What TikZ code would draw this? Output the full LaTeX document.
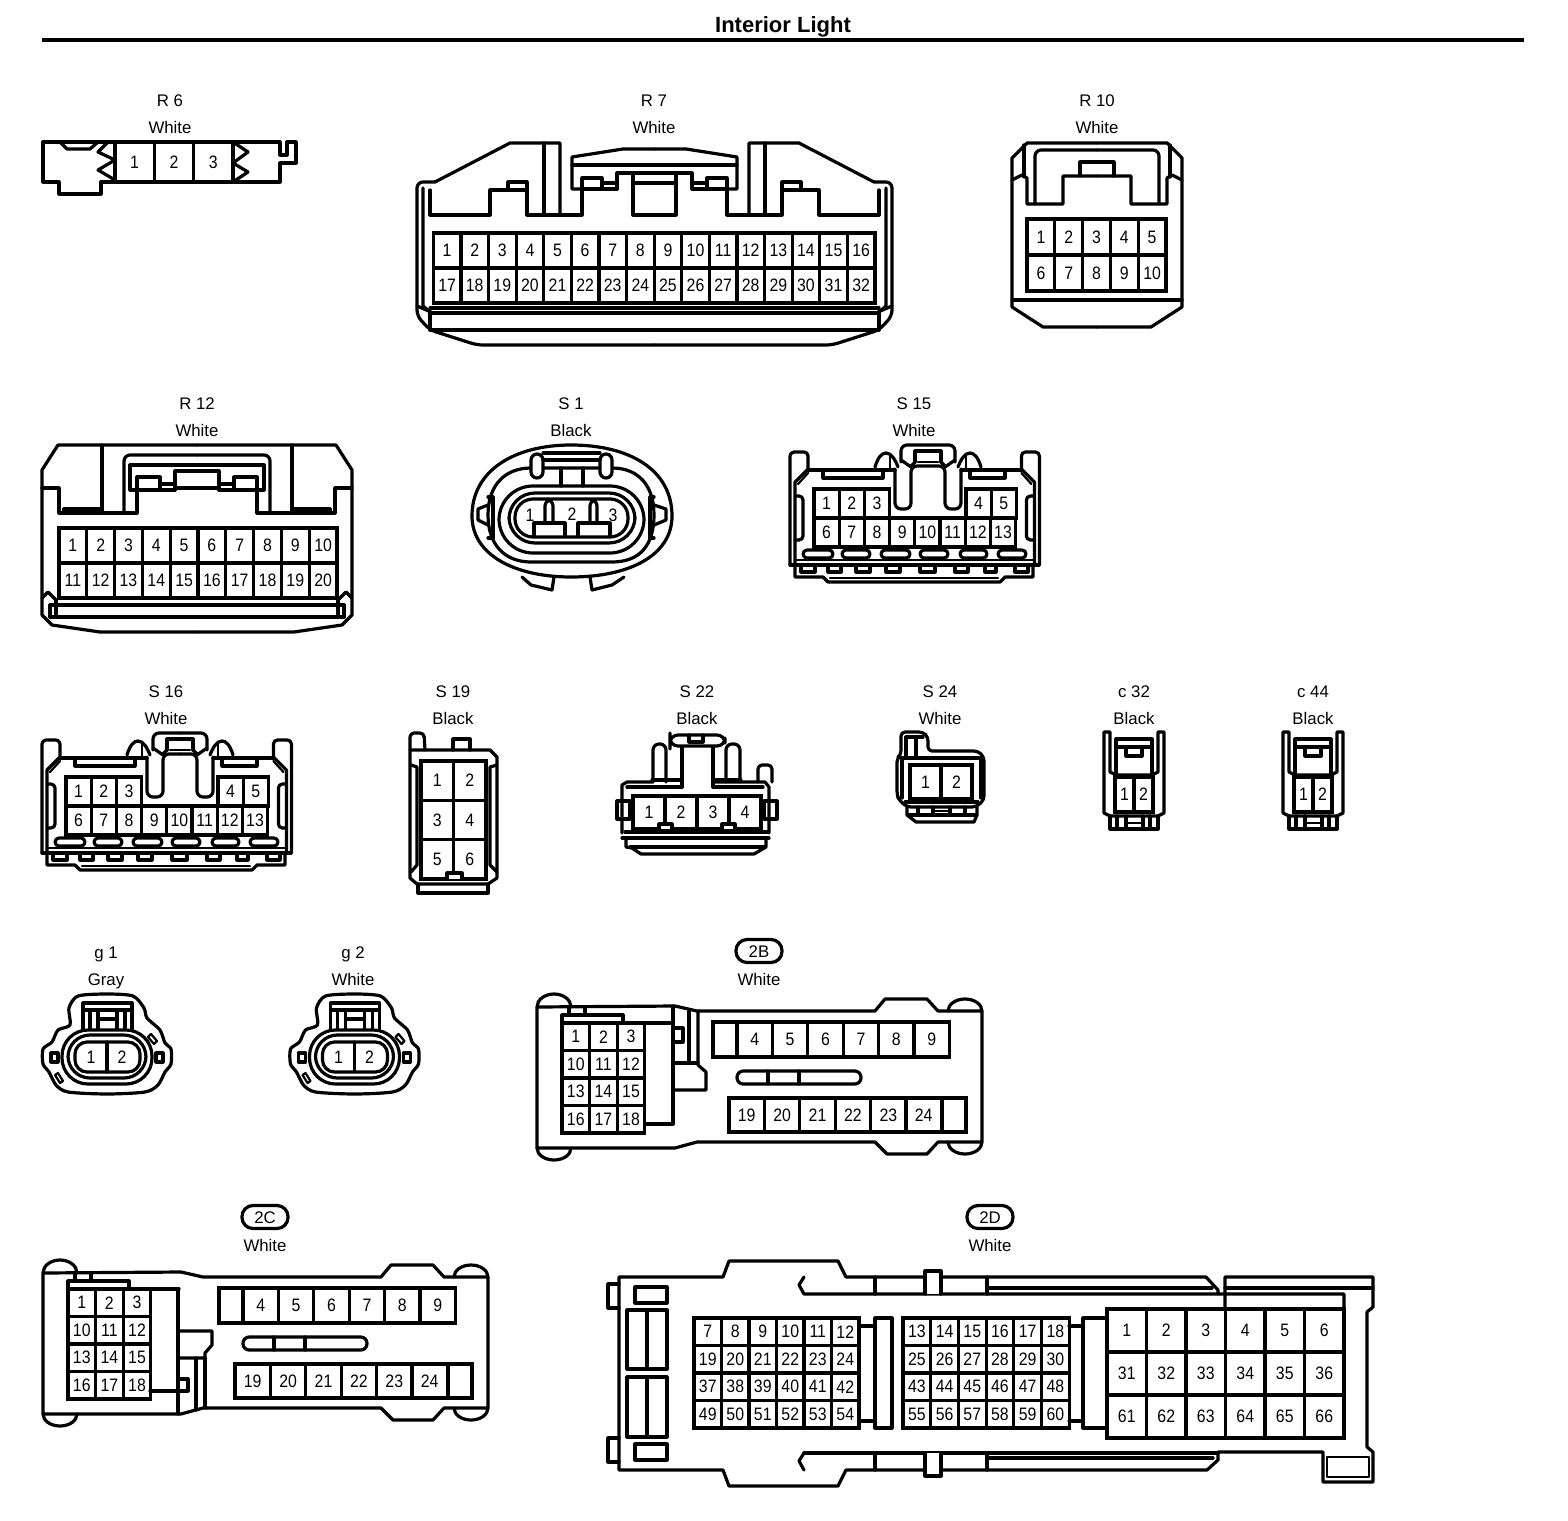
\documentclass[tikz,border=0pt]{standalone}
\usepackage{fontspec}
\setmainfont{Liberation Sans}
\newfontfamily\pinfont[FakeStretch=0.88]{Liberation Sans}
\tikzset{
  shell/.style={line width=1.6pt, line join=round, line cap=round},
  thin shell/.style={line width=1.1pt, line join=round, line cap=round},
  pinnum/.style={inner sep=0pt, outer sep=0pt, font=\pinfont\fontsize{9}{9}\selectfont},
  pincell/.style={pinnum, draw, line width=1.6pt},
  tagtext/.style={inner sep=0pt, text height=6pt, text depth=0pt, font=\fontsize{8.4}{10}\selectfont},
  tagpill/.style={tagtext, draw, line width=1.6pt, rounded corners=5.5pt, minimum width=23pt, minimum height=11.5pt}
}
\newcommand{\pinrow}[6]{
  \foreach \n [count=\k from 0] in {#6} {
    \node[pincell, minimum width=#4*0.5pt, minimum height=#5*0.5pt] (#1-\n) at ({#2+(\k+0.5)*#4},{#3+0.5*#5}) {\n};
  }
}
\newcommand{\conntag}[5]{
  \node[tagtext] (#1-tag) at (#2,#3) {#4};
  \node[tagtext] (#1-colour) at (#2,#3+27.5) {#5};
}
\newcommand{\ecutag}[5]{
  \node[tagpill] (#1-tag) at (#2,#3) {#4};
  \node[tagtext] (#1-colour) at (#2,#3+28) {#5};
}
\newcommand{\hsconn}[3]{
  \begin{scope}[shift={(#2,#3)}]
    \foreach \sx/\ox in {1/0,-1/333.4} {
      \begin{scope}[shift={(\ox,0)},xscale=\sx]
        \draw[shell, rounded corners=2pt] (42,853) -- (42,740) -- (60,740) -- (60,758);
        \draw[shell] (47,852) -- (47,770) -- (60,757);
        \draw[thin shell] (50,772) -- (60,761);
        \draw[shell, rounded corners=2pt] (47,784) -- (55,784) -- (55,828) -- (47,828);
      \end{scope}
    }
    \draw[shell] (60,758) -- (147,758);
    \draw[shell] (213,758) -- (273,758);
    \foreach \sx/\ox in {1/0,-1/360} {
      \begin{scope}[shift={(\ox,0)},xscale=\sx]
        \draw[shell, rounded corners=3pt] (180,754) -- (163,754) -- (163,797) -- (147,797) -- (147,757);
        \draw[shell] (127,755) .. controls (130,745) and (134,741) .. (138,741) .. controls (143,741) and (147,747) .. (150,755);
        \draw[thin shell] (142,742) -- (142,758);
        \draw[shell, rounded corners=3pt] (153,750) -- (153,733) -- (180,733);
        \draw[shell] (153,748) -- (163,755);
        \draw[shell] (167,750) -- (167,739) -- (180,739);
        \draw[thin shell] (170,750) -- (180,750);
        \draw[shell] (167,750) -- (163,754);
      \end{scope}
    }
    \draw[shell] (75,758) -- (75,766) -- (135,766) -- (135,758);
    \draw[shell] (222,758) -- (222,766) -- (257,766) -- (257,758);
    \draw[shell] (42,853) -- (291,853);
    \draw[thin shell] (47,848) -- (286,848);
    \foreach \a/\b in {55/85,94/122,133/162,172/200,212/239,250/278} {
      \draw[shell, rounded corners=2pt] (\a,838) rectangle (\b,846);
    }
    \draw[shell] (47,853) -- (47,865) -- (75,865) -- (80,870) -- (252,870) -- (257,865) -- (285,865) -- (285,853);
    \draw[thin shell] (82,866) -- (250,866);
    \foreach \a/\b in {53/67,80/93,108/122,138/152,172/187,207/220,237/248,267/280} {
      \draw[shell] (\a,853) -- (\a,860) -- (\b,860) -- (\b,853);
    }
    \pinrow{#1}{66}{777}{25.2}{29}{1,2,3}
    \pinrow{#1}{218}{777}{25.2}{29}{4,5}
    \pinrow{#1}{66}{806}{25.2}{29}{6,...,13}
  \end{scope}
}
\newcommand{\ccn}[2]{
  \begin{scope}[shift={(#2,0)}]
    \draw[shell] (1104,732) -- (1104,813) -- (1110,816) -- (1158,816) -- (1164,813) -- (1164,732) -- (1158,732) -- (1158,772) -- (1152,775) -- (1116,775) -- (1110,772) -- (1110,732) -- cycle;
    \draw[shell] (1116,775) -- (1116,739) -- (1152,739) -- (1152,775);
    \draw[shell] (1116,747) -- (1152,747);
    \draw[shell] (1126,747) -- (1126,756) -- (1142,756) -- (1142,747);
    \draw[shell] (1110,816) -- (1110,829) -- (1158,829) -- (1158,816);
    \draw[shell] (1117,816) -- (1117,829);
    \draw[shell] (1126,816) -- (1126,829);
    \draw[shell] (1143,816) -- (1143,829);
    \draw[shell] (1150,816) -- (1150,829);
    \draw[thin shell] (1126,823) -- (1143,823);
    \pinrow{#1}{1115}{777}{19}{35}{1,2}
  \end{scope}
}
\newcommand{\gcn}[2]{
  \begin{scope}[shift={(#2,0)}]
    \draw[shell] plot[smooth cycle, tension=.45] coordinates {(70,1025) (69,1008) (78,996) (107,994) (133,996) (144,1008) (147,1018) (160,1030) (165,1043) (171,1049) (171,1064) (165,1072) (158,1085) (145,1092) (107,1094) (68,1092) (56,1085) (49,1072) (43,1064) (43,1049) (52,1042) (58,1030)};
    \draw[shell, rounded corners=13pt] (62,1030) rectangle (152,1084);
    \draw[shell, rounded corners=11pt] (68,1035) rectangle (146,1078);
    \draw[shell, rounded corners=6pt] (75,1042) rectangle (140,1072);
    \draw[shell] (107,1042) -- (107,1072);
    \draw[shell] (83,1029) -- (83,1003) -- (132,1003) -- (132,1029);
    \draw[shell] (83,1010) -- (132,1010);
    \draw[shell] (90,1010) -- (90,1028);
    \draw[shell] (98,1010) -- (98,1028);
    \draw[shell] (117,1010) -- (117,1028);
    \draw[shell] (125,1010) -- (125,1028);
    \draw[shell] (98,1019) -- (117,1019);
    \draw[shell] (51,1053) rectangle (58,1062);
    \draw[shell] (156,1053) rectangle (163,1062);
    \draw[thin shell] (151,1034) -- (157,1041) -- (154,1044) -- (148,1037) -- cycle;
    \draw[thin shell] (58,1073) -- (63,1081) -- (60,1083) -- (55,1075) -- cycle;
    \node[pinnum] (#1-1) at (91,1057) {1};
    \node[pinnum] (#1-2) at (122,1057) {2};
  \end{scope}
}
\newcommand{\ecubody}[3]{
  \begin{scope}[shift={(#2,#3)}]
    \draw[shell] (537,1007) -- (675,1006) -- (697,1011) -- (875,1011) -- (885,999) -- (927,999) -- (938,1011) -- (982,1011) -- (982,1142) -- (938,1142) -- (927,1154) -- (887,1154) -- (875,1142) -- (697,1142) -- (675,1148) -- (537,1148) -- cycle;
    \draw[shell] (537,1007) arc[start angle=180, end angle=360, x radius=17, y radius=13];
    \draw[shell] (537,1148) arc[start angle=180, end angle=0, x radius=17, y radius=12];
    \draw[shell] (948,1011) arc[start angle=180, end angle=360, x radius=17, y radius=12];
    \draw[shell] (948,1142) arc[start angle=180, end angle=0, x radius=17, y radius=12];
    \draw[shell] (562,1023) -- (562,1015) -- (623,1015) -- (623,1023);
    \draw[shell] (569,1007) -- (569,1015);
    \draw[shell] (585,1007) -- (585,1015);
    \draw[shell] (645,1023) -- (673,1023);
    \draw[shell, rounded corners=3.1pt] (737,1071) rectangle (861,1084);
    \draw[shell] (768,1071) -- (768,1084);
    \draw[shell] (799,1071) -- (799,1084);
    \pinrow{#1}{562}{1023}{27.6}{27.5}{1,2,3}
    \pinrow{#1}{562}{1050.5}{27.6}{27.5}{10,11,12}
    \pinrow{#1}{562}{1078}{27.6}{27.5}{13,14,15}
    \pinrow{#1}{562}{1105.5}{27.6}{27.5}{16,17,18}
    \node[pincell, minimum width=12pt, minimum height=17.5pt] (#1-topblank) at (725,1039.5) {};
    \pinrow{#1}{737}{1022}{35.4}{35}{4,...,9}
    \pinrow{#1}{729}{1098}{35.4}{34}{19,...,24}
    \node[pincell, minimum width=12pt, minimum height=17pt] (#1-lowblank) at (954,1115) {};
  \end{scope}
}
\begin{document}
\begin{tikzpicture}[x=0.5pt, y=-0.5pt]
  \path[use as bounding box, fill=white] (0,0) rectangle (1568,1520);
  \node[inner sep=0pt, text height=7.9pt, text depth=0pt, font=\bfseries\fontsize{11}{13}\selectfont] (title) at (783,25) {Interior Light};
  \coordinate (ruleleft) at (42,40);
  \coordinate (ruleright) at (1524,40);
  \draw[line width=1.6pt] (ruleleft) -- (ruleright);

  \conntag{R6}{170}{100}{R 6}{White}
  \draw[shell] (43,142) -- (280,142) -- (280,155) -- (287,155) -- (287,142) -- (296,142) -- (296,163) -- (280,163) -- (280,182) -- (101,182) -- (101,194) -- (59,194) -- (59,182) -- (43,182) -- cycle;
  \draw[shell] (60,142) -- (67,149) -- (90,149) -- (98,142);
  \draw[shell] (108,142) -- (98,152) -- (115,160) -- (98,170) -- (115,180);
  \draw[shell] (233,142) -- (248,152) -- (233,163) -- (248,172) -- (233,182);
  \pinrow{R6}{115}{142}{39.3}{40}{1,2,3}

  \conntag{R7}{654}{100}{R 7}{White}
  \foreach \sx/\ox in {1/0,-1/1309} {
    \begin{scope}[shift={(\ox,0)},xscale=\sx]
      \draw[shell, rounded corners=3pt] (654.5,345) -- (477,345) -- (430,330) -- (417,316) -- (417,182) -- (435,182);
      \draw[shell] (435,182) -- (510,143) -- (560,143) -- (560,215);
      \draw[shell] (544,143) -- (544,215);
      \draw[shell] (430,190) -- (430,215) -- (490,215) -- (490,190) -- (527,190) -- (527,215) -- (582,215) -- (582,178) -- (602,178) -- (602,189) -- (582,189);
      \draw[shell] (508,190) -- (508,182) -- (527,182) -- (527,190);
      \draw[shell] (423,188) -- (423,306) -- (430,312);
      \draw[shell] (417,306) -- (431,312);
      \draw[shell] (430,313) -- (430,330) -- (654.5,330);
      \draw[shell] (654.5,149) -- (623,149) -- (572,157) -- (572,189) -- (582,189);
      \draw[shell] (572,165) -- (654.5,165);
      \draw[shell] (602,183) -- (617,183);
      \draw[shell] (602,189) -- (617,189);
      \draw[shell] (617,189) -- (617,173) -- (654.5,173);
      \draw[shell] (633,173) -- (633,215) -- (654.5,215);
      \draw[shell] (633,183) -- (654.5,183);
    \end{scope}
  }
  \draw[shell] (430,308) -- (879,308);
  \draw[shell] (430,313) -- (879,313);
  \pinrow{R7}{433.3}{233}{27.6}{35}{1,...,16}
  \pinrow{R7}{433.3}{268}{27.6}{35}{17,...,32}

  \conntag{R10}{1097}{100}{R 10}{White}
  \foreach \sx/\ox in {1/0,-1/2194} {
    \begin{scope}[shift={(\ox,0)},xscale=\sx]
      \draw[shell] (1097,143) -- (1027,143) -- (1012,158) -- (1012,307) -- (1043,327) -- (1097,327);
      \draw[shell] (1024,145) -- (1024,177);
      \draw[shell] (1012,180) -- (1022,175) -- (1027,178) -- (1027,204) -- (1063,204) -- (1063,176) -- (1097,176);
      \draw[shell, rounded corners=3pt] (1035,204) -- (1035,150) -- (1097,150);
      \draw[shell] (1080,176) -- (1080,162) -- (1097,162);
      \draw[shell] (1012,300) -- (1097,300);
    \end{scope}
  }
  \pinrow{R10}{1027}{219}{27.8}{36}{1,...,5}
  \pinrow{R10}{1027}{255}{27.8}{36}{6,...,10}

  \conntag{R12}{197}{403}{R 12}{White}
  \foreach \sx/\ox in {1/0,-1/394} {
    \begin{scope}[shift={(\ox,0)},xscale=\sx]
      \draw[shell] (197,445) -- (58,445) -- (42,470) -- (42,615) -- (52,625) -- (100,632) -- (197,632);
      \draw[shell] (42,488) -- (59,488) -- (59,513) -- (137,513) -- (137,490) -- (130,490) -- (130,465) -- (197,465);
      \draw[shell] (102,445) -- (102,513);
      \draw[shell] (64,513) -- (64,509) -- (102,509);
      \draw[shell, rounded corners=3pt] (124,513) -- (124,455) -- (197,455);
      \draw[shell] (137,490) -- (137,477) -- (160,477) -- (160,490) -- (137,490);
      \draw[shell] (160,484) -- (175,484);
      \draw[shell] (160,490) -- (175,490);
      \draw[shell] (175,490) -- (175,471) -- (197,471);
      \draw[shell] (175,488) -- (197,488);
      \draw[shell] (42,598) -- (48,592) -- (56,600);
      \draw[shell] (50,605) -- (50,617);
      \draw[shell] (56,600) -- (56,617);
      \draw[shell] (50,605) -- (197,605);
      \draw[shell] (50,617) -- (197,617);
    \end{scope}
  }
  \pinrow{R12}{59}{528}{27.8}{35}{1,...,10}
  \pinrow{R12}{59}{563}{27.8}{35}{11,...,20}

  \conntag{S1}{571}{403}{S 1}{Black}
  \draw[shell] (472,516) .. controls (472,470) and (515,445) .. (571,445) .. controls (630,445) and (672,470) .. (672,516) .. controls (672,555) and (630,577) .. (571,577) .. controls (515,577) and (472,555) .. (472,516) -- cycle;
  \draw[shell] (488,515) .. controls (488,485) and (505,468) .. (531,468) -- (612,468) .. controls (638,468) and (654,485) .. (654,515) .. controls (654,545) and (640,562) .. (612,562) -- (531,562) .. controls (505,562) and (488,545) .. (488,515) -- cycle;
  \draw[shell, rounded corners=17pt] (499,486) rectangle (644,553);
  \draw[shell, rounded corners=13pt] (509,493) rectangle (635,543);
  \draw[shell, rounded corners=9pt] (515,499) rectangle (628,537);
  \draw[shell, fill=white, rounded corners=3pt] (531,478) -- (531,454) -- (543,454) -- (543,478) -- cycle;
  \draw[shell, fill=white, rounded corners=3pt] (600,478) -- (600,454) -- (612,454) -- (612,478) -- cycle;
  \draw[shell] (543,453) -- (600,453);
  \draw[shell] (543,460) -- (600,460);
  \draw[shell] (561,468) -- (561,486);
  \draw[shell] (583,468) -- (583,486);
  \draw[shell] (488,497) -- (493,497) -- (493,538) -- (488,538);
  \draw[shell] (654,497) -- (650,497) -- (650,538) -- (654,538);
  \draw[shell] (488,505) -- (478,509) -- (478,520) -- (488,525);
  \draw[shell] (654,505) -- (666,509) -- (666,520) -- (654,525);
  \draw[shell, rounded corners=3pt] (545,523) -- (545,500) -- (553,500) -- (553,523);
  \draw[shell, rounded corners=3pt] (590,523) -- (590,500) -- (597,500) -- (597,523);
  \draw[shell] (534,536) -- (534,523) -- (565,523) -- (565,536);
  \draw[shell] (578,536) -- (578,523) -- (610,523) -- (610,536);
  \draw[shell] (522,577) -- (531,585) -- (552,590) -- (554,577);
  \draw[shell] (590,577) -- (592,590) -- (612,585) -- (624,577);
  \node[pinnum] (S1-1) at (530,515) {1};
  \node[pinnum] (S1-2) at (572,514) {2};
  \node[pinnum] (S1-3) at (613,515) {3};

  \conntag{S15}{914}{403}{S 15}{White}
  \hsconn{S15}{748}{-288}

  \conntag{S16}{166}{691}{S 16}{White}
  \hsconn{S16}{0}{0}

  \conntag{S19}{453}{691}{S 19}{Black}
  \draw[shell, rounded corners=2pt] (410,750) -- (410,733) -- (424,733) -- (425,750);
  \draw[shell] (453,750) -- (453,739) -- (470,739) -- (470,750);
  \draw[shell] (417,750) -- (490,750) -- (497,757) -- (497,878) -- (488,884) -- (417,884) -- (410,878) -- (410,750) -- (417,750);
  \draw[shell] (418,884) -- (418,893) -- (488,893) -- (488,884);
  \draw[shell] (411,765) -- (417,767) -- (417,865) -- (411,872);
  \draw[shell] (497,765) -- (490,767) -- (490,865) -- (497,872);
  \pinrow{S19}{421}{761}{32.5}{39.3}{1,2}
  \pinrow{S19}{421}{800.3}{32.5}{39.3}{3,4}
  \pinrow{S19}{421}{839.6}{32.5}{39.3}{5,6}
  \draw[shell, fill=white] (447,879) -- (447,873) -- (462,873) -- (462,879);

  \conntag{S22}{697}{691}{S 22}{Black}
  \draw[shell] (622,833) -- (622,785) -- (627,782) -- (653,782);
  \draw[shell] (714,782) -- (765,782) -- (769,787) -- (769,833);
  \draw[shell] (627,787) -- (682,787);
  \draw[shell] (713,787) -- (763,787);
  \draw[shell] (622,838) -- (769,838);
  \draw[shell] (625,832) -- (767,832);
  \draw[shell] (626,838) -- (626,847) -- (632,848) -- (641,854) -- (754,854) -- (766,847) -- (766,838);
  \draw[shell] (630,847) -- (764,847);
  \draw[shell] (617,801) rectangle (630,819);
  \draw[shell] (764,801) rectangle (777,819);
  \draw[shell, rounded corners=3pt] (653,782) -- (653,744) -- (666,744) -- (666,782);
  \draw[shell, rounded corners=3pt] (726,782) -- (726,744) -- (740,744) -- (740,782);
  \draw[shell] (652,780) -- (682,780);
  \draw[shell] (713,780) -- (741,780);
  \draw[shell] (682,787) -- (682,747);
  \draw[shell] (713,787) -- (713,747);
  \draw[shell, rounded corners=4pt] (670,741) -- (670,735) -- (725,735) -- (725,746) -- (670,746) -- cycle;
  \draw[shell] (689,735) -- (689,742) -- (703,742) -- (703,735);
  \draw[shell, rounded corners=2pt] (758,782) -- (758,765) -- (772,765) -- (772,782);
  \pinrow{S22}{633}{796}{32}{33}{1,2,3,4}
  \draw[shell, fill=white] (659,831) -- (659,824) -- (672,824) -- (672,831) -- cycle;
  \draw[shell, fill=white] (722,831) -- (722,824) -- (735,824) -- (735,831) -- cycle;

  \conntag{S24}{940}{691}{S 24}{White}
  \draw[shell, rounded corners=2pt] (901,755) -- (901,732) -- (923,732) -- (928,737) -- (928,751) -- (978,751) -- (984,757) -- (984,800) -- (976,807) -- (907,807) -- (899,800) -- (897,795) -- (897,758) -- cycle;
  \draw[shell] (906,737) -- (923,737);
  \draw[shell] (906,737) -- (906,758);
  \draw[shell] (916,737) -- (916,758);
  \draw[shell] (902,758) -- (981,758);
  \draw[shell] (902,758) -- (902,798);
  \draw[shell] (981,758) -- (981,798);
  \draw[shell] (905,802) -- (978,802);
  \draw[shell] (907,807) -- (907,815) -- (916,822) -- (974,822) -- (977,815) -- (977,807);
  \draw[shell] (908,815) -- (976,815);
  \draw[shell] (918,807) -- (918,815);
  \draw[shell] (933,807) -- (933,815);
  \draw[shell] (950,807) -- (950,815);
  \draw[shell] (965,807) -- (965,815);
  \draw[thin shell] (933,811) -- (950,811);
  \pinrow{S24}{910}{765}{31}{34}{1,2}

  \conntag{c32}{1134}{691}{c 32}{Black}
  \ccn{c32}{0}
  \conntag{c44}{1313}{691}{c 44}{Black}
  \ccn{c44}{179}

  \conntag{g1}{106}{952}{g 1}{Gray}
  \gcn{g1}{0}
  \conntag{g2}{353}{952}{g 2}{White}
  \gcn{g2}{247.5}

  \ecutag{2B}{759}{951}{2B}{White}
  \ecubody{2B}{0}{0}
  \draw[shell] (673,1006) -- (673,1124) -- (645,1124);
  \draw[shell] (673,1028) -- (683,1028) -- (683,1042) -- (673,1042);
  \draw[shell] (673,1063) -- (698,1063);
  \draw[shell] (689,1011) -- (689,1063);
  \draw[shell] (698,1011) -- (698,1065) -- (706,1072) -- (706,1090) -- (673,1090);

  \ecutag{2C}{265}{1217}{2C}{White}
  \ecubody{2C}{-494}{266}
  \draw[shell] (178,1289) -- (178,1414);
  \draw[shell] (178,1331) -- (212,1331) -- (212,1345) -- (205,1353) -- (205,1358) -- (178,1358);
  \draw[shell] (196,1358) -- (196,1410);
  \draw[shell] (205,1358) -- (205,1408);
  \draw[shell] (150,1391) -- (188,1391) -- (188,1379) -- (178,1379);

  \ecutag{2D}{990}{1217}{2D}{White}
  \draw[shell] (1206,1277) -- (846,1277) -- (838,1261) -- (729,1261) -- (723,1277) -- (619,1277) -- (619,1470) -- (723,1470) -- (729,1486) -- (838,1486) -- (846,1470) -- (1207,1470) -- (1218,1460) -- (1218,1452) -- (1323,1452) -- (1323,1482) -- (1373,1482) -- (1373,1452) -- (1367,1447) -- (1367,1312) -- (1373,1307) -- (1373,1277) -- (1225,1277) -- (1225,1309);
  \draw[shell] (1206,1277) -- (1218,1290) -- (1218,1294);
  \draw[shell] (804,1277) -- (799,1285) -- (804,1294) -- (1344,1294) -- (1344,1309);
  \draw[shell] (804,1453) -- (799,1461) -- (804,1470);
  \draw[shell] (804,1453) -- (1218,1453);
  \draw[shell] (987,1288) -- (1212,1288);
  \draw[shell] (1225,1288) -- (1373,1288);
  \draw[shell] (987,1458) -- (1213,1458);
  \foreach \xa in {875,987} {
    \draw[shell] (\xa,1277) -- (\xa,1294);
    \draw[shell] (\xa,1453) -- (\xa,1470);
  }
  \draw[shell, fill=white] (925,1294) -- (925,1271) -- (941,1271) -- (941,1294);
  \draw[shell, fill=white] (925,1453) -- (925,1476) -- (941,1476) -- (941,1453);
  \draw[shell] (619,1284) -- (608,1284) -- (608,1308) -- (619,1308);
  \draw[shell] (619,1438) -- (608,1438) -- (608,1462) -- (619,1462);
  \draw[shell] (635,1287) rectangle (667,1303);
  \draw[shell] (635,1444) rectangle (667,1460);
  \draw[shell] (627,1310) rectangle (667,1369);
  \draw[shell] (647,1310) -- (647,1369);
  \draw[shell] (627,1377) rectangle (667,1437);
  \draw[shell] (647,1377) -- (647,1437);
  \draw[thin shell] (1327,1457) rectangle (1369,1477);
  \pinrow{2D}{694}{1318}{27.5}{27.5}{7,...,12}
  \pinrow{2D}{694}{1345.5}{27.5}{27.5}{19,...,24}
  \pinrow{2D}{694}{1373}{27.5}{27.5}{37,...,42}
  \pinrow{2D}{694}{1400.5}{27.5}{27.5}{49,...,54}
  \draw[shell] (859,1326) -- (875,1326);
  \draw[shell] (859,1421) -- (875,1421);
  \draw[shell] (875,1318) rectangle (892,1428);
  \pinrow{2D}{903}{1318}{27.7}{27.5}{13,...,18}
  \pinrow{2D}{903}{1345.5}{27.7}{27.5}{25,...,30}
  \pinrow{2D}{903}{1373}{27.7}{27.5}{43,...,48}
  \pinrow{2D}{903}{1400.5}{27.7}{27.5}{55,...,60}
  \draw[shell] (1069,1326) -- (1083,1326);
  \draw[shell] (1069,1421) -- (1083,1421);
  \draw[shell] (1107,1318) -- (1083,1318) -- (1083,1428) -- (1107,1428);
  \pinrow{2D}{1107}{1309}{39.5}{43}{1,...,6}
  \pinrow{2D}{1107}{1352}{39.5}{43}{31,...,36}
  \pinrow{2D}{1107}{1395}{39.5}{43}{61,...,66}
\end{tikzpicture}
\end{document}
